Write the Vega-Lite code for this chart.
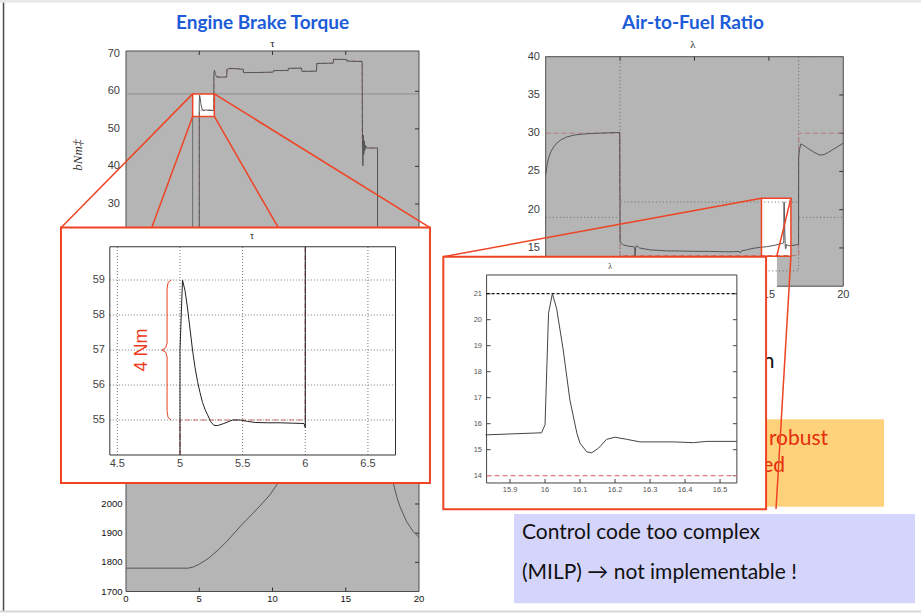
{
  "$schema": "https://vega.github.io/schema/vega-lite/v6.json",
  "width": 921,
  "height": 613,
  "autosize": {"type": "none"},
  "padding": 0,
  "background": "#ffffff",
  "config": {"view": {"stroke": null}, "text": {"font": "Lato"}},
  "datasets": {
    "torque": [
      {"t": 5.0, "v": 20}, {"t": 5.0, "v": 57.0}, {"t": 5.02, "v": 59.0}, {"t": 5.06, "v": 58.2}, {"t": 5.1, "v": 57.0},
      {"t": 5.14, "v": 56.1}, {"t": 5.18, "v": 55.5}, {"t": 5.22, "v": 55.15}, {"t": 5.27, "v": 54.85}, {"t": 5.32, "v": 54.86},
      {"t": 5.42, "v": 55.0}, {"t": 5.5, "v": 55.0}, {"t": 5.6, "v": 54.93}, {"t": 5.8, "v": 54.92}, {"t": 5.99, "v": 54.9},
      {"t": 6.0, "v": 54.78}, {"t": 6.0, "v": 64.8}, {"t": 6.04, "v": 65.6}, {"t": 6.1, "v": 64.4}, {"t": 6.2, "v": 63.8},
      {"t": 6.5, "v": 63.75}, {"t": 6.87, "v": 63.8}, {"t": 6.9, "v": 65.8}, {"t": 7.1, "v": 66.1}, {"t": 7.5, "v": 66.0},
      {"t": 8.0, "v": 65.85}, {"t": 8.03, "v": 64.95}, {"t": 9.0, "v": 65.0}, {"t": 10.05, "v": 65.1}, {"t": 10.08, "v": 65.5},
      {"t": 11.07, "v": 65.55}, {"t": 11.1, "v": 66.1}, {"t": 11.98, "v": 66.15}, {"t": 12.01, "v": 65.3}, {"t": 13.0, "v": 65.35},
      {"t": 13.03, "v": 67.4}, {"t": 14.14, "v": 67.5}, {"t": 14.17, "v": 68.5}, {"t": 15.05, "v": 68.45}, {"t": 15.08, "v": 68.05},
      {"t": 16.12, "v": 67.9}, {"t": 16.14, "v": 47.5}, {"t": 16.17, "v": 40.2}, {"t": 16.2, "v": 48.3}, {"t": 16.23, "v": 43.2},
      {"t": 16.27, "v": 46.8}, {"t": 16.3, "v": 44.2}, {"t": 16.35, "v": 45.6}, {"t": 16.45, "v": 44.9}, {"t": 17.17, "v": 44.9},
      {"t": 17.17, "v": 20}
    ],
    "torqueRef": [
      {"t": 5.0, "v": 20}, {"t": 5.0, "v": 55}, {"t": 6.0, "v": 55}, {"t": 6.0, "v": 63.8}, {"t": 6.87, "v": 63.8},
      {"t": 6.87, "v": 66.0}, {"t": 8.0, "v": 66.0}, {"t": 8.0, "v": 65.0}, {"t": 10.05, "v": 65.0}, {"t": 10.05, "v": 65.5},
      {"t": 11.07, "v": 65.5}, {"t": 11.07, "v": 66.1}, {"t": 11.98, "v": 66.1}, {"t": 11.98, "v": 65.3}, {"t": 13.0, "v": 65.3},
      {"t": 13.0, "v": 67.4}, {"t": 14.14, "v": 67.4}, {"t": 14.14, "v": 68.5}, {"t": 15.05, "v": 68.5}, {"t": 15.05, "v": 68.05},
      {"t": 16.12, "v": 68.05}, {"t": 16.12, "v": 44.9}, {"t": 17.17, "v": 44.9}, {"t": 17.17, "v": 20}
    ],
    "torqueZoom": [
      {"t": 5.0, "v": 54.0}, {"t": 5.0, "v": 57.0}, {"t": 5.02, "v": 59.0}, {"t": 5.04, "v": 58.7}, {"t": 5.06, "v": 58.2},
      {"t": 5.08, "v": 57.6}, {"t": 5.1, "v": 57.0}, {"t": 5.12, "v": 56.5}, {"t": 5.14, "v": 56.1}, {"t": 5.16, "v": 55.78},
      {"t": 5.18, "v": 55.5}, {"t": 5.2, "v": 55.3}, {"t": 5.22, "v": 55.15}, {"t": 5.245, "v": 54.95}, {"t": 5.27, "v": 54.85},
      {"t": 5.3, "v": 54.84}, {"t": 5.35, "v": 54.9}, {"t": 5.42, "v": 55.0}, {"t": 5.48, "v": 55.0}, {"t": 5.54, "v": 54.96},
      {"t": 5.6, "v": 54.93}, {"t": 5.7, "v": 54.92}, {"t": 5.8, "v": 54.92}, {"t": 5.9, "v": 54.91}, {"t": 5.99, "v": 54.9},
      {"t": 6.0, "v": 54.78}, {"t": 6.0, "v": 59.95}
    ],
    "torqueZoomRef": [
      {"t": 5.0, "v": 54.0}, {"t": 5.0, "v": 55.0}, {"t": 6.0, "v": 55.0}, {"t": 6.0, "v": 59.95}
    ],
    "brace": [
      {"t": 4.93, "v": 59.0}, {"t": 4.905, "v": 58.93}, {"t": 4.897, "v": 58.75}, {"t": 4.897, "v": 57.2}, {"t": 4.886, "v": 57.06},
      {"t": 4.856, "v": 57.0}, {"t": 4.886, "v": 56.94}, {"t": 4.897, "v": 56.8}, {"t": 4.897, "v": 55.25}, {"t": 4.905, "v": 55.07},
      {"t": 4.93, "v": 55.0}
    ],
    "speed": [
      {"t": 0, "v": 1780}, {"t": 4.25, "v": 1780}, {"t": 4.6, "v": 1784}, {"t": 5.0, "v": 1794}, {"t": 5.4, "v": 1806},
      {"t": 5.73, "v": 1818}, {"t": 6.3, "v": 1843}, {"t": 6.87, "v": 1871}, {"t": 7.4, "v": 1901}, {"t": 8.0, "v": 1934},
      {"t": 8.6, "v": 1965}, {"t": 9.14, "v": 1993}, {"t": 9.82, "v": 2031}, {"t": 10.32, "v": 2068}, {"t": 11, "v": 2110},
      {"t": 12, "v": 2170}, {"t": 13, "v": 2230}, {"t": 14, "v": 2290}, {"t": 15, "v": 2340}, {"t": 16, "v": 2390},
      {"t": 17.2, "v": 2440}, {"t": 17.6, "v": 2300}, {"t": 18.0, "v": 2150}, {"t": 18.25, "v": 2071}, {"t": 18.48, "v": 2025},
      {"t": 18.7, "v": 1991}, {"t": 19.16, "v": 1939}, {"t": 19.61, "v": 1905}, {"t": 20.0, "v": 1886}
    ],
    "afr": [
      {"t": 0, "v": 24.6}, {"t": 0.1, "v": 25.9}, {"t": 0.2, "v": 26.8}, {"t": 0.35, "v": 27.6}, {"t": 0.5, "v": 28.1},
      {"t": 0.74, "v": 28.7}, {"t": 1.0, "v": 29.1}, {"t": 1.4, "v": 29.5}, {"t": 1.9, "v": 29.75}, {"t": 2.4, "v": 29.87},
      {"t": 3.0, "v": 29.95}, {"t": 3.5, "v": 30.0}, {"t": 4.97, "v": 30.1}, {"t": 5.0, "v": 15.8}, {"t": 5.1, "v": 15.6},
      {"t": 5.22, "v": 15.4}, {"t": 5.5, "v": 15.25}, {"t": 5.89, "v": 15.16}, {"t": 5.98, "v": 15.1}, {"t": 6.0, "v": 13.9},
      {"t": 6.04, "v": 15.0}, {"t": 6.12, "v": 15.3}, {"t": 6.3, "v": 15.0}, {"t": 7.0, "v": 14.75}, {"t": 8.1, "v": 14.62},
      {"t": 9.0, "v": 14.6}, {"t": 10.0, "v": 14.56}, {"t": 11.0, "v": 14.55}, {"t": 12.0, "v": 14.5}, {"t": 12.6, "v": 14.5},
      {"t": 13.0, "v": 14.55}, {"t": 13.08, "v": 14.35}, {"t": 13.15, "v": 14.62}, {"t": 13.5, "v": 14.75}, {"t": 13.93, "v": 14.95},
      {"t": 14.5, "v": 15.1}, {"t": 14.85, "v": 15.16}, {"t": 15.4, "v": 15.35}, {"t": 15.83, "v": 15.57}, {"t": 15.99, "v": 15.65},
      {"t": 16.0, "v": 15.96}, {"t": 16.01, "v": 20.25}, {"t": 16.021, "v": 21.0}, {"t": 16.033, "v": 20.44}, {"t": 16.052, "v": 18.83},
      {"t": 16.071, "v": 16.91}, {"t": 16.091, "v": 15.63}, {"t": 16.1, "v": 15.25}, {"t": 16.119, "v": 14.92}, {"t": 16.133, "v": 14.88},
      {"t": 16.152, "v": 15.05}, {"t": 16.176, "v": 15.4}, {"t": 16.2, "v": 15.48}, {"t": 16.233, "v": 15.4}, {"t": 16.271, "v": 15.3},
      {"t": 16.367, "v": 15.3}, {"t": 16.424, "v": 15.27}, {"t": 16.462, "v": 15.32}, {"t": 16.548, "v": 15.32}, {"t": 16.99, "v": 15.45},
      {"t": 17.0, "v": 26.9}, {"t": 17.06, "v": 27.9}, {"t": 17.15, "v": 28.6}, {"t": 17.3, "v": 28.45}, {"t": 17.6, "v": 28.05},
      {"t": 18.0, "v": 27.55}, {"t": 18.4, "v": 27.15}, {"t": 18.7, "v": 27.2}, {"t": 19.0, "v": 27.5}, {"t": 19.5, "v": 28.1},
      {"t": 20.0, "v": 28.7}
    ],
    "afrBounds": [
      {"t": 0, "v": 40, "grp": "upper"}, {"t": 5, "v": 40, "grp": "upper"}, {"t": 5, "v": 21, "grp": "upper"},
      {"t": 17, "v": 21, "grp": "upper"}, {"t": 17, "v": 40, "grp": "upper"}, {"t": 20, "v": 40, "grp": "upper"},
      {"t": 0, "v": 19, "grp": "lower"}, {"t": 5, "v": 19, "grp": "lower"}, {"t": 5, "v": 12, "grp": "lower"},
      {"t": 17, "v": 12, "grp": "lower"}, {"t": 17, "v": 19, "grp": "lower"}, {"t": 20, "v": 19, "grp": "lower"}
    ],
    "afrRef": [
      {"t": 0, "v": 30}, {"t": 5, "v": 30}, {"t": 5, "v": 14}, {"t": 17, "v": 14}, {"t": 17, "v": 30}, {"t": 20, "v": 30}
    ]
  },
  "resolve": {"scale": {"x": "independent", "y": "independent"}},
  "layer": [
    {
      "layer": [
        {"data": {"values": [{}]}, "mark": {"type": "rect", "fill": "#b5b5b5", "stroke": "#4d4d4d", "strokeWidth": 1},
          "encoding": {"x": {"datum": 0, "type": "quantitative", "axis": null}, "x2": {"datum": 20}, "y": {"datum": 20, "type": "quantitative", "axis": null}, "y2": {"datum": 70.72}}},
        {"data": {"values": [{}]}, "mark": {"type": "rule", "color": "#8e8e8e", "strokeWidth": 1},
          "encoding": {"x": {"datum": 0, "type": "quantitative", "axis": null}, "x2": {"datum": 20}, "y": {"datum": 59.3, "type": "quantitative", "axis": null}}},
        {"data": {"values": [{}]}, "mark": {"type": "rule", "color": "#6e6e6e", "strokeWidth": 1},
          "encoding": {"x": {"datum": 4.55, "type": "quantitative", "axis": null}, "y": {"datum": 20, "type": "quantitative", "axis": null}, "y2": {"datum": 53.3}}},
        {"data": {"values": [{"v": 30}, {"v": 40}, {"v": 50}, {"v": 60}]}, "mark": {"type": "rule", "color": "#333333", "strokeWidth": 1},
          "encoding": {"x": {"datum": 19.73, "type": "quantitative", "axis": null}, "x2": {"datum": 20}, "y": {"field": "v", "type": "quantitative", "axis": null}}},
        {"data": {"values": [{"t": 5}, {"t": 10}, {"t": 15}]}, "mark": {"type": "rule", "color": "#333333", "strokeWidth": 1},
          "encoding": {"x": {"field": "t", "type": "quantitative", "axis": null}, "y": {"datum": 69.66, "type": "quantitative", "axis": null}, "y2": {"datum": 70.72}}},
        {"data": {"values": [{}]}, "mark": {"type": "rect", "fill": "#ffffff"},
          "encoding": {"x": {"datum": 4.55, "type": "quantitative", "axis": null}, "x2": {"datum": 6.03}, "y": {"datum": 53.3, "type": "quantitative", "axis": null}, "y2": {"datum": 59.3}}},
        {"data": {"name": "torqueRef"}, "mark": {"type": "line", "color": "#b27a7a", "strokeWidth": 1, "strokeDash": [4, 3]},
          "encoding": {"x": {"field": "t", "type": "quantitative", "axis": null}, "y": {"field": "v", "type": "quantitative", "axis": null}, "order": {"value": null}}},
        {"data": {"name": "torque"}, "mark": {"type": "line", "color": "#555555", "strokeWidth": 1},
          "encoding": {
            "x": {"field": "t", "type": "quantitative", "scale": {"domain": [-8.601, 54.266], "nice": false, "zero": false}, "axis": null},
            "y": {"field": "v", "type": "quantitative", "scale": {"domain": [-78.85, 84.29], "nice": false, "zero": false}, "axis": null},
            "order": {"value": null}}},
        {"data": {"values": [{}]}, "mark": {"type": "rect", "filled": false, "color": "#ee4424", "strokeWidth": 1.5},
          "encoding": {"x": {"datum": 4.55, "type": "quantitative", "axis": null}, "x2": {"datum": 6.03}, "y": {"datum": 53.3, "type": "quantitative", "axis": null}, "y2": {"datum": 59.3}}},
        {"data": {"values": [
            {"t": 4.55, "v": 59.3, "t2": -4.437, "v2": 23.7},
            {"t": 6.03, "v": 59.3, "t2": 20.751, "v2": 23.7},
            {"t": 4.55, "v": 53.3, "t2": 1.754, "v2": 23.7},
            {"t": 6.03, "v": 53.3, "t2": 10.396, "v2": 23.7}]},
          "mark": {"type": "rule", "color": "#ee4424", "strokeWidth": 1.5},
          "encoding": {"x": {"field": "t", "type": "quantitative", "axis": null}, "y": {"field": "v", "type": "quantitative", "axis": null}, "x2": {"field": "t2"}, "y2": {"field": "v2"}}},
        {"data": {"values": [{"v": 30}, {"v": 40}, {"v": 50}, {"v": 60}, {"v": 70}]},
          "mark": {"type": "text", "align": "right", "baseline": "middle", "font": "Liberation Sans", "fontSize": 11, "color": "#3c3c3c"},
          "encoding": {"x": {"datum": -0.41, "type": "quantitative", "axis": null}, "y": {"field": "v", "type": "quantitative", "axis": null}, "text": {"field": "v", "type": "quantitative"}}},
        {"data": {"values": [{}]}, "mark": {"type": "text", "text": "τ", "font": "Liberation Serif", "fontSize": 11, "color": "#222222"},
          "encoding": {"x": {"datum": 10, "type": "quantitative", "axis": null}, "y": {"datum": 72.6, "type": "quantitative", "axis": null}}},
        {"data": {"values": [{}]}, "mark": {"type": "text", "text": "bNm‡", "angle": 270, "font": "Liberation Serif", "fontStyle": "italic", "fontSize": 13, "color": "#333333"},
          "encoding": {"x": {"datum": -3.28, "type": "quantitative", "axis": null}, "y": {"datum": 43.0, "type": "quantitative", "axis": null}}},
        {"data": {"values": [{}]}, "mark": {"type": "text", "text": "Engine Brake Torque", "font": "Lato", "fontWeight": "bold", "fontSize": 19, "color": "#1c5cd8"},
          "encoding": {"x": {"datum": 9.32, "type": "quantitative", "axis": null}, "y": {"datum": 78.25, "type": "quantitative", "axis": null}}},
        {"data": {"values": [{}]}, "mark": {"type": "rule", "color": "#4a4a4a", "strokeWidth": 1.5},
          "encoding": {"x": {"datum": -8.36, "type": "quantitative", "axis": null}, "y": {"datum": 84.29, "type": "quantitative", "axis": null}, "y2": {"datum": -78.3}}},
        {"data": {"values": [{}]}, "mark": {"type": "rule", "color": "#d8d8d8", "strokeWidth": 2},
          "encoding": {"x": {"datum": -8.6, "type": "quantitative", "axis": null}, "x2": {"datum": 54.27}, "y": {"datum": -78.45, "type": "quantitative", "axis": null}}},
        {"data": {"values": [{}]}, "mark": {"type": "rule", "color": "#e8e8e8", "strokeWidth": 3},
          "encoding": {"x": {"datum": -8.6, "type": "quantitative", "axis": null}, "x2": {"datum": 54.27}, "y": {"datum": 83.95, "type": "quantitative", "axis": null}}}
      ]
    },
    {
      "layer": [
        {"data": {"values": [{}]}, "mark": {"type": "rect", "fill": "#b5b5b5", "stroke": "#4d4d4d", "strokeWidth": 1},
          "encoding": {"x": {"datum": 0, "type": "quantitative", "axis": null}, "x2": {"datum": 20}, "y": {"datum": 1700, "type": "quantitative", "axis": null}, "y2": {"datum": 2600}}},
        {"data": {"values": [{"v": 1800}, {"v": 1900}, {"v": 2000}]}, "mark": {"type": "rule", "color": "#333333", "strokeWidth": 1},
          "encoding": {"x": {"datum": 19.73, "type": "quantitative", "axis": null}, "x2": {"datum": 20}, "y": {"field": "v", "type": "quantitative", "axis": null}}},
        {"data": {"values": [{"t": 5}, {"t": 10}, {"t": 15}]}, "mark": {"type": "rule", "color": "#333333", "strokeWidth": 1},
          "encoding": {"x": {"field": "t", "type": "quantitative", "axis": null}, "y": {"datum": 1700, "type": "quantitative", "axis": null}, "y2": {"datum": 1713.7}}},
        {"data": {"name": "speed"}, "mark": {"type": "line", "color": "#555555", "strokeWidth": 1},
          "encoding": {
            "x": {"field": "t", "type": "quantitative", "scale": {"domain": [-8.601, 54.266], "nice": false, "zero": false}, "axis": null},
            "y": {"field": "v", "type": "quantitative", "scale": {"domain": [1626.3, 3727.8], "nice": false, "zero": false}, "axis": null},
            "order": {"value": null}}},
        {"data": {"values": [{"v": 1700}, {"v": 1800}, {"v": 1900}, {"v": 2000}]},
          "mark": {"type": "text", "align": "right", "baseline": "middle", "font": "Liberation Sans", "fontSize": 9.5, "color": "#111111"},
          "encoding": {"x": {"datum": -0.24, "type": "quantitative", "axis": null}, "y": {"field": "v", "type": "quantitative", "axis": null}, "text": {"field": "v", "type": "quantitative"}}},
        {"data": {"values": [{"t": 0}, {"t": 5}, {"t": 10}, {"t": 15}, {"t": 20}]},
          "mark": {"type": "text", "align": "center", "baseline": "middle", "font": "Liberation Sans", "fontSize": 9.5, "color": "#111111"},
          "encoding": {"x": {"field": "t", "type": "quantitative", "axis": null}, "y": {"datum": 1676, "type": "quantitative", "axis": null}, "text": {"field": "t", "type": "quantitative"}}}
      ]
    },
    {
      "layer": [
        {"data": {"values": [{}]}, "mark": {"type": "rect", "fill": "#b5b5b5", "stroke": "#4d4d4d", "strokeWidth": 1},
          "encoding": {"x": {"datum": 0, "type": "quantitative", "axis": null}, "x2": {"datum": 20}, "y": {"datum": 10, "type": "quantitative", "axis": null}, "y2": {"datum": 40}}},
        {"data": {"values": [{"v": 15}, {"v": 20}, {"v": 25}, {"v": 30}, {"v": 35}]}, "mark": {"type": "rule", "color": "#333333", "strokeWidth": 1},
          "encoding": {"x": {"datum": 19.73, "type": "quantitative", "axis": null}, "x2": {"datum": 20}, "y": {"field": "v", "type": "quantitative", "axis": null}}},
        {"data": {"values": [{"t": 5}, {"t": 10}, {"t": 15}]}, "mark": {"type": "rule", "color": "#333333", "strokeWidth": 1},
          "encoding": {"x": {"field": "t", "type": "quantitative", "axis": null}, "y": {"datum": 39.48, "type": "quantitative", "axis": null}, "y2": {"datum": 40}}},
        {"data": {"values": [{}]}, "mark": {"type": "rect", "fill": "#ffffff"},
          "encoding": {"x": {"datum": 14.85, "type": "quantitative", "axis": null}, "x2": {"datum": 15.54}, "y": {"datum": 9.9, "type": "quantitative", "axis": null}, "y2": {"datum": 13.86}}},
        {"data": {"values": [{}]}, "mark": {"type": "rect", "fill": "#ffffff"},
          "encoding": {"x": {"datum": 14.5, "type": "quantitative", "axis": null}, "x2": {"datum": 16.48}, "y": {"datum": 13.9, "type": "quantitative", "axis": null}, "y2": {"datum": 21.5}}},
        {"data": {"name": "afrBounds"}, "mark": {"type": "line", "color": "#6a6a6a", "strokeWidth": 1, "strokeDash": [1, 2.5]},
          "encoding": {"x": {"field": "t", "type": "quantitative", "axis": null}, "y": {"field": "v", "type": "quantitative", "axis": null}, "detail": {"field": "grp"}, "order": {"value": null}}},
        {"data": {"name": "afrRef"}, "mark": {"type": "line", "color": "#b27a7a", "strokeWidth": 1, "strokeDash": [5, 3]},
          "encoding": {"x": {"field": "t", "type": "quantitative", "axis": null}, "y": {"field": "v", "type": "quantitative", "axis": null}, "order": {"value": null}}},
        {"data": {"name": "afr"}, "mark": {"type": "line", "color": "#555555", "strokeWidth": 1},
          "encoding": {
            "x": {"field": "t", "type": "quantitative", "scale": {"domain": [-36.673, 25.222], "nice": false, "zero": false}, "axis": null},
            "y": {"field": "v", "type": "quantitative", "scale": {"domain": [-32.719, 47.412], "nice": false, "zero": false}, "axis": null},
            "order": {"value": null}}},
        {"data": {"values": [{}]}, "mark": {"type": "rect", "filled": false, "color": "#ee4424", "strokeWidth": 1.5},
          "encoding": {"x": {"datum": 14.5, "type": "quantitative", "axis": null}, "x2": {"datum": 16.48}, "y": {"datum": 13.9, "type": "quantitative", "axis": null}, "y2": {"datum": 21.5}}},
        {"data": {"values": [{"v": 10}, {"v": 15}, {"v": 20}, {"v": 25}, {"v": 30}, {"v": 35}, {"v": 40}]},
          "mark": {"type": "text", "align": "right", "baseline": "middle", "font": "Liberation Sans", "fontSize": 11, "color": "#3c3c3c"},
          "encoding": {"x": {"datum": -0.383, "type": "quantitative", "axis": null}, "y": {"field": "v", "type": "quantitative", "axis": null}, "text": {"field": "v", "type": "quantitative"}}},
        {"data": {"values": [{"t": 0}, {"t": 5}, {"t": 10}, {"t": 15}, {"t": 20}]},
          "mark": {"type": "text", "align": "center", "baseline": "middle", "font": "Liberation Sans", "fontSize": 11, "color": "#3c3c3c"},
          "encoding": {"x": {"field": "t", "type": "quantitative", "axis": null}, "y": {"datum": 8.85, "type": "quantitative", "axis": null}, "text": {"field": "t", "type": "quantitative"}}},
        {"data": {"values": [{}]}, "mark": {"type": "text", "text": "λ", "font": "Liberation Serif", "fontSize": 11, "color": "#222222"},
          "encoding": {"x": {"datum": 9.9, "type": "quantitative", "axis": null}, "y": {"datum": 41.5, "type": "quantitative", "axis": null}}},
        {"data": {"values": [{}]}, "mark": {"type": "text", "text": "Air-to-Fuel Ratio", "font": "Lato", "fontWeight": "bold", "fontSize": 19, "color": "#1c5cd8"},
          "encoding": {"x": {"datum": 9.9, "type": "quantitative", "axis": null}, "y": {"datum": 44.4, "type": "quantitative", "axis": null}}},
        {"data": {"values": [{}]}, "mark": {"type": "rect", "fill": "#fed27b"},
          "encoding": {"x": {"datum": 14.5, "type": "quantitative", "axis": null}, "x2": {"datum": 22.74}, "y": {"datum": -18.82, "type": "quantitative", "axis": null}, "y2": {"datum": -7.4}}},
        {"data": {"values": [{}]}, "mark": {"type": "text", "text": "robust", "align": "left", "baseline": "alphabetic", "font": "Lato", "fontSize": 21, "color": "#e52e0c"},
          "encoding": {"x": {"datum": 15.0, "type": "quantitative", "axis": null}, "y": {"datum": -10.76, "type": "quantitative", "axis": null}}},
        {"data": {"values": [{}]}, "mark": {"type": "text", "text": "ed", "align": "left", "baseline": "alphabetic", "font": "Lato", "fontSize": 21, "color": "#e52e0c"},
          "encoding": {"x": {"datum": 14.55, "type": "quantitative", "axis": null}, "y": {"datum": -14.25, "type": "quantitative", "axis": null}}},
        {"data": {"values": [{}]}, "mark": {"type": "text", "text": "n", "align": "left", "baseline": "alphabetic", "font": "Lato", "fontSize": 21, "color": "#111111"},
          "encoding": {"x": {"datum": 14.58, "type": "quantitative", "axis": null}, "y": {"datum": -0.69, "type": "quantitative", "axis": null}}},
        {"data": {"values": [
            {"t": 14.5, "v": 21.5, "t2": -6.88, "v2": 13.86},
            {"t": 16.48, "v": 21.5, "t2": 15.52, "v2": 13.86},
            {"t": 16.48, "v": 13.9, "t2": 15.48, "v2": -19.12}]},
          "mark": {"type": "rule", "color": "#ee4424", "strokeWidth": 1.5},
          "encoding": {"x": {"field": "t", "type": "quantitative", "axis": null}, "y": {"field": "v", "type": "quantitative", "axis": null}, "x2": {"field": "t2"}, "y2": {"field": "v2"}}},
        {"data": {"values": [{}]}, "mark": {"type": "rect", "fill": "#d5d5fb"},
          "encoding": {"x": {"datum": -2.13, "type": "quantitative", "axis": null}, "x2": {"datum": 24.82}, "y": {"datum": -31.45, "type": "quantitative", "axis": null}, "y2": {"datum": -19.78}}},
        {"data": {"values": [{}]}, "mark": {"type": "text", "text": "Control code too complex", "align": "left", "baseline": "alphabetic", "font": "Lato", "fontSize": 21, "color": "#111111"},
          "encoding": {"x": {"datum": -1.593, "type": "quantitative", "axis": null}, "y": {"datum": -23.08, "type": "quantitative", "axis": null}}},
        {"data": {"values": [{}]}, "mark": {"type": "text", "text": "(MILP) → not implementable !", "align": "left", "baseline": "alphabetic", "font": "Lato", "fontSize": 21, "color": "#111111"},
          "encoding": {"x": {"datum": -1.593, "type": "quantitative", "axis": null}, "y": {"datum": -28.31, "type": "quantitative", "axis": null}}}
      ]
    },
    {
      "layer": [
        {"data": {"values": [{}]}, "mark": {"type": "rect", "fill": "#ffffff", "stroke": "#ee4424", "strokeWidth": 2},
          "encoding": {"x": {"datum": 4.05, "type": "quantitative", "axis": null}, "x2": {"datum": 6.995}, "y": {"datum": 53.2, "type": "quantitative", "axis": null}, "y2": {"datum": 60.5}}},
        {"data": {"values": [{"t": 4.5}, {"t": 5}, {"t": 5.5}, {"t": 6}, {"t": 6.5}]},
          "mark": {"type": "rule", "color": "#777777", "strokeWidth": 1, "strokeDash": [1, 2]},
          "encoding": {"x": {"field": "t", "type": "quantitative", "axis": null}, "y": {"datum": 54.0, "type": "quantitative", "axis": null}, "y2": {"datum": 59.95}}},
        {"data": {"values": [{"v": 55}, {"v": 56}, {"v": 57}, {"v": 58}, {"v": 59}]},
          "mark": {"type": "rule", "color": "#777777", "strokeWidth": 1, "strokeDash": [1, 2]},
          "encoding": {"y": {"field": "v", "type": "quantitative", "axis": null}, "x": {"datum": 4.44, "type": "quantitative", "axis": null}, "x2": {"datum": 6.72}}},
        {"data": {"values": [{}]}, "mark": {"type": "rect", "filled": false, "color": "#333333", "strokeWidth": 1},
          "encoding": {"x": {"datum": 4.44, "type": "quantitative", "axis": null}, "x2": {"datum": 6.72}, "y": {"datum": 54.0, "type": "quantitative", "axis": null}, "y2": {"datum": 59.95}}},
        {"data": {"name": "torqueZoomRef"}, "mark": {"type": "line", "color": "#d67070", "strokeWidth": 1.2, "strokeDash": [5, 3]},
          "encoding": {"x": {"field": "t", "type": "quantitative", "axis": null}, "y": {"field": "v", "type": "quantitative", "axis": null}, "order": {"value": null}}},
        {"data": {"name": "torqueZoom"}, "mark": {"type": "line", "color": "#222222", "strokeWidth": 1},
          "encoding": {
            "x": {"field": "t", "type": "quantitative", "scale": {"domain": [3.5635, 10.914], "nice": false, "zero": false}, "axis": null},
            "y": {"field": "v", "type": "quantitative", "scale": {"domain": [49.486, 67.0], "nice": false, "zero": false}, "axis": null},
            "order": {"value": null}}},
        {"data": {"values": [{"v": 55}, {"v": 56}, {"v": 57}, {"v": 58}, {"v": 59}]},
          "mark": {"type": "text", "align": "right", "baseline": "middle", "font": "Liberation Sans", "fontSize": 11, "color": "#444444"},
          "encoding": {"x": {"datum": 4.4014, "type": "quantitative", "axis": null}, "y": {"field": "v", "type": "quantitative", "axis": null}, "text": {"field": "v", "type": "quantitative"}}},
        {"data": {"values": [{"t": 4.5}, {"t": 5}, {"t": 5.5}, {"t": 6}, {"t": 6.5}]},
          "mark": {"type": "text", "align": "center", "baseline": "middle", "font": "Liberation Sans", "fontSize": 11, "color": "#444444"},
          "encoding": {"x": {"field": "t", "type": "quantitative", "axis": null}, "y": {"datum": 53.74, "type": "quantitative", "axis": null}, "text": {"field": "t", "type": "quantitative", "format": "~g"}}},
        {"data": {"name": "brace"}, "mark": {"type": "line", "color": "#ee4424", "strokeWidth": 1},
          "encoding": {"x": {"field": "t", "type": "quantitative", "axis": null}, "y": {"field": "v", "type": "quantitative", "axis": null}, "order": {"value": null}}},
        {"data": {"values": [{}]}, "mark": {"type": "text", "text": "4 Nm", "angle": 270, "font": "Liberation Sans", "fontSize": 18, "color": "#ee3a1c"},
          "encoding": {"x": {"datum": 4.694, "type": "quantitative", "axis": null}, "y": {"datum": 57.0, "type": "quantitative", "axis": null}}},
        {"data": {"values": [{}]}, "mark": {"type": "text", "text": "τ", "font": "Liberation Serif", "fontSize": 10, "color": "#222222"},
          "encoding": {"x": {"datum": 5.575, "type": "quantitative", "axis": null}, "y": {"datum": 60.26, "type": "quantitative", "axis": null}}}
      ]
    },
    {
      "layer": [
        {"data": {"values": [{}]}, "mark": {"type": "rect", "fill": "#ffffff", "stroke": "#ee4424", "strokeWidth": 2},
          "encoding": {"x": {"datum": 15.7094, "type": "quantitative", "axis": null}, "x2": {"datum": 16.6314}, "y": {"datum": 12.708, "type": "quantitative", "axis": null}, "y2": {"datum": 22.423}}},
        {"data": {"values": [{}]}, "mark": {"type": "rect", "filled": false, "color": "#444444", "strokeWidth": 1},
          "encoding": {"x": {"datum": 15.833, "type": "quantitative", "axis": null}, "x2": {"datum": 16.548}, "y": {"datum": 13.72, "type": "quantitative", "axis": null}, "y2": {"datum": 21.72}}},
        {"data": {"values": [{"v": 14}, {"v": 15}, {"v": 16}, {"v": 17}, {"v": 18}, {"v": 19}, {"v": 20}, {"v": 21}]}, "mark": {"type": "rule", "color": "#444444", "strokeWidth": 1},
          "encoding": {"x": {"datum": 16.5366, "type": "quantitative", "axis": null}, "x2": {"datum": 16.548}, "y": {"field": "v", "type": "quantitative", "axis": null}}},
        {"data": {"values": [{"v": 14}, {"v": 15}, {"v": 16}, {"v": 17}, {"v": 18}, {"v": 19}, {"v": 20}, {"v": 21}]}, "mark": {"type": "rule", "color": "#444444", "strokeWidth": 1},
          "encoding": {"x": {"datum": 15.833, "type": "quantitative", "axis": null}, "x2": {"datum": 15.8444}, "y": {"field": "v", "type": "quantitative", "axis": null}}},
        {"data": {"values": [{"t": 15.9}, {"t": 16}, {"t": 16.1}, {"t": 16.2}, {"t": 16.3}, {"t": 16.4}, {"t": 16.5}]}, "mark": {"type": "rule", "color": "#444444", "strokeWidth": 1},
          "encoding": {"x": {"field": "t", "type": "quantitative", "axis": null}, "y": {"datum": 13.72, "type": "quantitative", "axis": null}, "y2": {"datum": 13.874}}},
        {"data": {"values": [{}]}, "mark": {"type": "rule", "color": "#111111", "strokeWidth": 1.3, "strokeDash": [3, 2]},
          "encoding": {"x": {"datum": 15.833, "type": "quantitative", "axis": null}, "x2": {"datum": 16.548}, "y": {"datum": 21, "type": "quantitative", "axis": null}}},
        {"data": {"values": [{}]}, "mark": {"type": "rule", "color": "#e08080", "strokeWidth": 1.2, "strokeDash": [5, 3]},
          "encoding": {"x": {"datum": 15.833, "type": "quantitative", "axis": null}, "x2": {"datum": 16.548}, "y": {"datum": 14, "type": "quantitative", "axis": null}}},
        {"data": {"name": "afr"}, "transform": [{"filter": "datum.t >= 15.83 && datum.t <= 16.55"}],
          "mark": {"type": "line", "color": "#444444", "strokeWidth": 1},
          "encoding": {
            "x": {"field": "t", "type": "quantitative", "scale": {"domain": [14.443, 17.074], "nice": false, "zero": false}, "axis": null},
            "y": {"field": "v", "type": "quantitative", "scale": {"domain": [8.719, 32.296], "nice": false, "zero": false}, "axis": null},
            "order": {"value": null}}},
        {"data": {"values": [{"v": 14}, {"v": 15}, {"v": 16}, {"v": 17}, {"v": 18}, {"v": 19}, {"v": 20}, {"v": 21}]},
          "mark": {"type": "text", "align": "right", "baseline": "middle", "font": "Liberation Sans", "fontSize": 7.5, "color": "#555555"},
          "encoding": {"x": {"datum": 15.82, "type": "quantitative", "axis": null}, "y": {"field": "v", "type": "quantitative", "axis": null}, "text": {"field": "v", "type": "quantitative"}}},
        {"data": {"values": [{"t": 15.9}, {"t": 16}, {"t": 16.1}, {"t": 16.2}, {"t": 16.3}, {"t": 16.4}, {"t": 16.5}]},
          "mark": {"type": "text", "align": "center", "baseline": "middle", "font": "Liberation Sans", "fontSize": 7.5, "color": "#555555"},
          "encoding": {"x": {"field": "t", "type": "quantitative", "axis": null}, "y": {"datum": 13.45, "type": "quantitative", "axis": null}, "text": {"field": "t", "type": "quantitative", "format": "~g"}}},
        {"data": {"values": [{}]}, "mark": {"type": "text", "text": "λ", "font": "Liberation Serif", "fontSize": 8, "color": "#333333"},
          "encoding": {"x": {"datum": 16.186, "type": "quantitative", "axis": null}, "y": {"datum": 22.03, "type": "quantitative", "axis": null}}}
      ]
    }
  ]
}
